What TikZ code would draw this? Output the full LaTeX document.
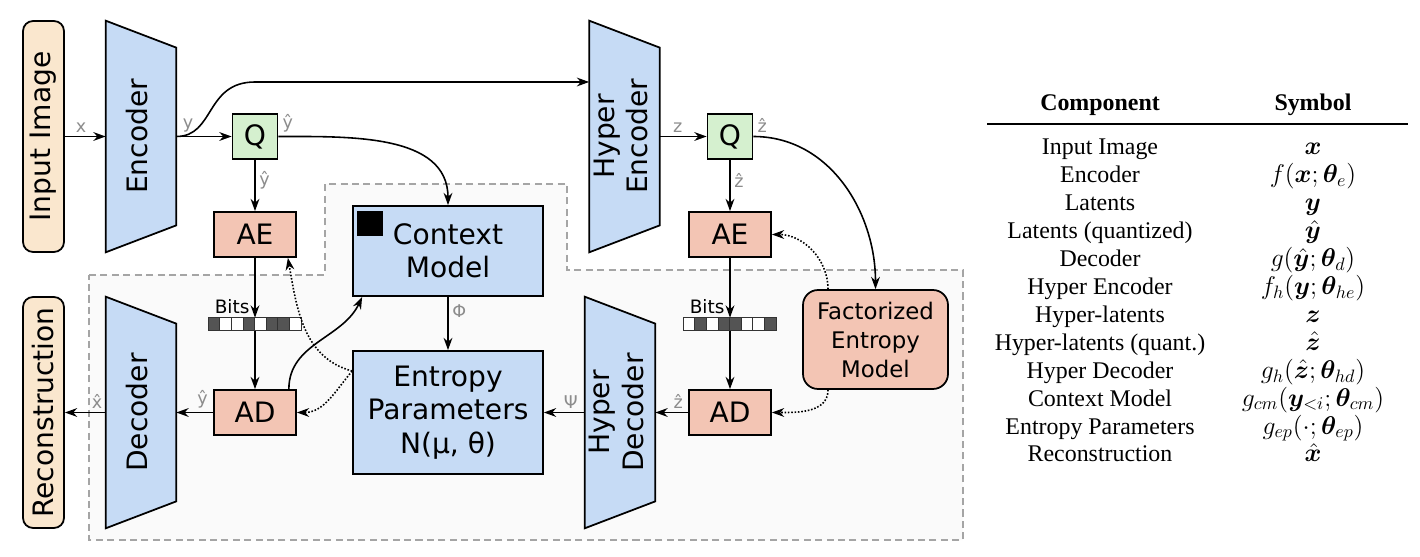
\RequirePackage{fix-cm}
\documentclass[tikz,border=0pt]{standalone}
\usepackage{fontspec}
\setmainfont{Liberation Serif}
\newfontfamily\dejavu{DejaVu Sans}
\usepackage{bm}
\usepackage{tikz}
\usetikzlibrary{arrows.meta,backgrounds}

\definecolor{encblue}{RGB}{198,219,245}
\definecolor{acsalmon}{RGB}{243,197,180}
\definecolor{qgreen}{RGB}{213,240,207}
\definecolor{sidebeige}{RGB}{250,231,206}
\definecolor{labelgray}{RGB}{140,140,140}
\definecolor{regiongray}{RGB}{165,165,165}
\definecolor{regionfill}{RGB}{250,250,250}

% trapezoid behind a named node, long side on the left
\newcommand{\trapez}[1]{\filldraw[fill=encblue, line width=1pt] (#1.north west) -- ([yshift=-0.54cm]#1.north east) -- ([yshift=0.54cm]#1.south east) -- (#1.south west) -- cycle;}
\newcommand{\vtext}[1]{\rotatebox{90}{\begin{tabular}{@{}c@{}}#1\end{tabular}}}

\begin{document}
\begin{tikzpicture}[x=0.02cm, y=-0.02cm, >={Stealth[length=7pt,width=5pt]}]
	\tikzstyle{every node}=[font=\dejavu\fontsize{16}{19}\selectfont, inner sep=0pt]
	\tikzstyle{box}=[draw=black, line width=1pt, rectangle, align=center]
	\tikzstyle{side}=[box, fill=sidebeige, rounded corners=0.2cm, minimum width=0.82cm, minimum height=4.62cm]
	\tikzstyle{trap}=[minimum width=1.4cm, minimum height=4.62cm]
	\tikzstyle{quant}=[box, fill=qgreen, minimum size=0.9cm]
	\tikzstyle{coder}=[box, fill=acsalmon, minimum width=1.64cm, minimum height=0.9cm]
	\tikzstyle{net}=[box, fill=encblue, minimum width=3.8cm]
	\tikzstyle{lbl}=[font=\dejavu\fontsize{10}{12}\selectfont, text=labelgray, inner sep=2pt]
	\tikzstyle{bitbar}=[minimum width=1.86cm, minimum height=0.26cm]
	\tikzstyle{flow}=[->, line width=0.9pt]
	\tikzstyle{ctrl}=[->, line width=0.9pt, densely dotted]
	\tikzstyle{th}=[font=\bfseries\fontsize{13.6}{16}\selectfont, anchor=base]
	\tikzstyle{td}=[font=\fontsize{13.6}{16}\selectfont, anchor=base]
	\tikzstyle{tm}=[font=\fontsize{14.6}{16}\selectfont, anchor=base]
	\useasboundingbox (0,0) rectangle (1420,557);

	% decoder side
	\begin{scope}[on background layer]
		\filldraw[fill=regionfill, draw=regiongray, dash pattern=on 4pt off 2.5pt, line width=0.8pt] (89,275) -- (325,275) -- (325,184) -- (567,184) -- (567,270) -- (963,270) -- (963,540) -- (89,540) -- cycle;
	\end{scope}

	\path (43.5,136.5) node[side] (inp) {\rotatebox{90}{Input Image}};
	\path (43.5,412.5) node[side] (rec) {\rotatebox{90}{Reconstruction}};
	\path (141,136.5)  node[trap] (enc)  {\vtext{Encoder}};
	\path (141,412.5)  node[trap] (dec)  {\vtext{Decoder}};
	\path (624.5,136.5) node[trap] (henc) {\vtext{Hyper\\Encoder}};
	\path (620,412.5)  node[trap] (hdec) {\vtext{Hyper\\Decoder}};
	\begin{scope}[on background layer]
		\trapez{enc} \trapez{dec} \trapez{henc} \trapez{hdec}
	\end{scope}

	\path (255,136.5) node[quant] (q1) {Q};
	\path (730,136.5) node[quant] (q2) {Q};
	\path (255,234.5) node[coder] (ae1) {AE};
	\path (730,234.5) node[coder] (ae2) {AE};
	\path (255,412.5) node[coder] (ad1) {AD};
	\path (730,412.5) node[coder] (ad2) {AD};
	\path (255,324.5) node[bitbar] (bits1) {};
	\path (730,324.5) node[bitbar] (bits2) {};
	\path (448,251)   node[net, minimum height=1.8cm] (ctx) {Context\\Model};
	\path (448,412.5) node[net, minimum height=2.46cm] (ep) {Entropy\\Parameters\\N(μ, θ)};
	\path (875.5,339.5) node[box, fill=acsalmon, rounded corners=0.3cm, minimum width=2.9cm, minimum height=1.98cm, font=\dejavu\fontsize{13}{16.5}\selectfont] (fem) {Factorized\\Entropy\\Model};
	\fill (ctx.north west) ++(5,6) rectangle ++(26,25);

	% bit strings
	\foreach \k [count=\i] in {67,0,0,67,0,67,67,0}
		\filldraw[fill=black!\k, draw=black!80, line width=0.6pt] ([xshift=\i*0.2325cm-0.2325cm]bits1.north west) rectangle ++(11.625,13);
	\foreach \k [count=\i] in {0,67,0,67,67,0,0,67}
		\filldraw[fill=black!\k, draw=black!80, line width=0.6pt] ([xshift=\i*0.2325cm-0.2325cm]bits2.north west) rectangle ++(11.625,13);
	\path ([xshift=-3pt, yshift=2pt]bits1.north) node[anchor=south east, font=\dejavu\fontsize{10.5}{12}\selectfont] (bl1) {Bits};
	\path ([xshift=-3pt, yshift=2pt]bits2.north) node[anchor=south east, font=\dejavu\fontsize{10.5}{12}\selectfont] (bl2) {Bits};

	% encoder path
	\draw[flow] (inp) -- node[lbl, above, pos=0.4] (lx) {x} (enc);
	\draw[flow] (enc) -- node[lbl, above, pos=0.21] (ly) {y} (q1);
	\draw[flow] (enc.east) .. controls (215,136.5) and (205,82) .. (255,82) -- (henc.west |- 0,82);
	\draw[flow] (q1.east) node[lbl, above right] (lyh1) {ŷ} to[out=0, in=90] (ctx.north);
	\draw[flow] (q1) -- node[lbl, right, pos=0.4] (lyh2) {ŷ} (ae1);
	\draw[flow] (ae1) -- (bits1);
	\draw[flow] (bits1) -- (ad1);
	\draw[flow] (henc) -- node[lbl, above, pos=0.38] (lz) {z} (q2);
	\draw[flow] (q2.east) node[lbl, above right] (lzh1) {ẑ} to[out=0, in=90] (fem.north);
	\draw[flow] (q2) -- node[lbl, right, pos=0.4] (lzh2) {ẑ} (ae2);
	\draw[flow] (ae2) -- (bits2);
	\draw[flow] (bits2) -- (ad2);

	% decoder path
	\draw[flow] (ad1) -- node[lbl, above, pos=0.29] (lyh3) {ŷ} (dec);
	\draw[flow] (dec) -- node[lbl, above, pos=0.21] (lxh) {x̂} (rec);
	\draw[flow] ([xshift=-0.16cm]ad1.north east) to[out=90, in=245] ([xshift=0.2cm]ctx.south west);
	\draw[flow] (ctx) -- node[lbl, right, pos=0.27] (lphi) {Φ} (ep);
	\draw[flow] (hdec) -- node[lbl, above, pos=0.34] (lpsi) {Ψ} (ep);
	\draw[flow] (ad2) -- node[lbl, above, pos=0.3] (lzh3) {ẑ} (hdec);
	\draw[ctrl] ([yshift=0.83cm]ep.west) to[out=165, in=-80] ([xshift=-0.18cm]ae1.south east);
	\draw[ctrl] ([yshift=0.83cm]ep.west) to[out=230, in=0] (ad1.east);
	\draw[ctrl] ([xshift=-0.95cm]fem.north) to[out=90, in=0] (ae2.east);
	\draw[ctrl] ([xshift=-0.95cm]fem.south) to[out=-90, in=0] (ad2.east);

	% symbol table
	\path (1100,110.7) node[th] (hcomp) {Component};
	\path (1313,110.7) node[th] (hsym) {Symbol};
	\draw[line width=0.8pt] (987,124) -- (1408,124);
	\foreach \comp/\sym [count=\i] in {Input Image/{\bm{x}}, Encoder/{f(\bm{x};\bm{\theta}_e)}, Latents/{\bm{y}}, Latents (quantized)/{\bm{\hat{y}}}, Decoder/{g(\bm{\hat{y}};\bm{\theta}_d)}, Hyper Encoder/{f_h(\bm{y};\bm{\theta}_{he})}, Hyper-latents/{\bm{z}}, Hyper-latents (quant.)/{\bm{\hat{z}}}, Hyper Decoder/{g_h(\bm{\hat{z}};\bm{\theta}_{hd})}, Context Model/{g_{cm}(\bm{y}_{<i};\bm{\theta}_{cm})}, Entropy Parameters/{g_{ep}(\cdot;\bm{\theta}_{ep})}, Reconstruction/{\bm{\hat{x}}}} {
		\pgfmathsetmacro\yrow{127.1+27.9*\i}
		\path (1100,\yrow) node[td] (comp\i) {\comp};
		\path (1313,\yrow) node[tm] (sym\i) {$\sym$};
	}
\end{tikzpicture}
\end{document}
